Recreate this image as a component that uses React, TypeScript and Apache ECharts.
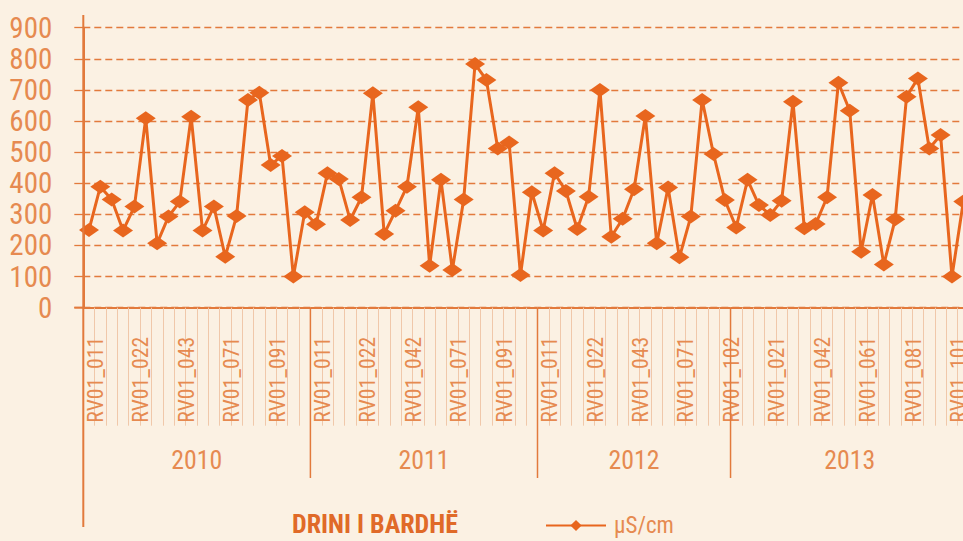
import React, { useEffect, useRef } from "react";
import * as echarts from "echarts";

const years = ["2010", "2011", "2012", "2013"];
const codes2010 = ["011", "012", "013", "021", "022", "031", "032", "041", "043", "051", "052", "061", "071", "072", "081", "082", "091", "092", "101", "102"];
const codes2011 = ["011", "012", "013", "021", "022", "031", "032", "041", "042", "051", "052", "061", "071", "072", "081", "082", "091", "092", "101", "102"];
const codes2012 = ["011", "012", "013", "021", "022", "031", "041", "042", "043", "051", "061", "062", "071", "081", "091", "101", "102"];
const codes2013 = ["011", "012", "013", "021", "022", "031", "041", "042", "051", "052", "053", "061", "062", "071", "072", "081", "082", "091", "092", "101", "102"];

const values2010 = [250, 389, 348, 248, 325, 609, 207, 293, 341, 614, 248, 325, 164, 295, 668, 691, 459, 488, 100, 307];
const values2011 = [268, 432, 414, 282, 355, 689, 237, 312, 389, 644, 135, 411, 121, 348, 783, 732, 512, 531, 105, 371];
const values2012 = [248, 432, 375, 253, 357, 700, 228, 286, 381, 616, 207, 386, 162, 293, 668, 494, 346];
const values2013 = [258, 411, 330, 298, 344, 662, 255, 269, 355, 723, 633, 180, 362, 139, 284, 678, 737, 512, 555, 100, 341];

const yMin = 0;
const yMax = 900;
const yInterval = 100;

const seriesName = "µS/cm";
const riverName = "DRINI I BARDHË";

const codeGroups = [codes2010, codes2011, codes2012, codes2013];
const categories = codeGroups.flat().map((c) => "RV01_" + c);
const values = [...values2010, ...values2011, ...values2012, ...values2013];

const BG = "#FBF1E3";
const LINE = "#E8661E";
const AXIS = "#E27A3C";
const TEXT = "#E68A50";
const TICK = "#F0C8AA";

function pickFont(): string {
  const cands = [
    "Roboto Condensed",
    "DejaVu Sans Condensed",
    "Liberation Sans Narrow",
    "Noto Sans Condensed",
    "Open Sans Condensed",
    "Arial Narrow",
  ];
  const ctx = document.createElement("canvas").getContext("2d");
  if (!ctx) return "Roboto";
  const test = "RV01_0123456789 abcdefghij";
  ctx.font = "40px monospace";
  const b1 = ctx.measureText(test).width;
  ctx.font = "40px serif";
  const b2 = ctx.measureText(test).width;
  for (const f of cands) {
    ctx.font = `40px '${f}', monospace`;
    const w1 = ctx.measureText(test).width;
    ctx.font = `40px '${f}', serif`;
    const w2 = ctx.measureText(test).width;
    if (Math.abs(w1 - b1) > 0.5 || Math.abs(w2 - b2) > 0.5) return `'${f}'`;
  }
  return "Roboto";
}

function fitSize(font: string, text: string, target: number, maxSize: number, weight = "normal"): number {
  const ctx = document.createElement("canvas").getContext("2d");
  if (!ctx) return maxSize;
  ctx.font = `${weight} 100px ${font}`;
  const w = ctx.measureText(text).width;
  if (!w) return maxSize;
  return Math.min(maxSize, (100 * target) / w);
}

export default function App() {
  const ref = useRef<HTMLDivElement>(null);

  useEffect(() => {
    if (!ref.current) return;
    const FONT = pickFont() + ", Roboto, sans-serif";
    const ySize = fitSize(FONT, "900", 43, 30);
    const xSize = fitSize(FONT, "RV01_011", 86, 22.5);
    const yearSize = fitSize(FONT, "2010", 51, 29);
    const titleSize = fitSize(FONT, riverName, 166, 27, "bold");
    const legendSize = fitSize(FONT, seriesName, 72, 23);

    const chart = echarts.init(ref.current, null, { renderer: "svg" });
    const option: any = {
      animation: false,
      backgroundColor: BG,
      title: {
        text: riverName,
        left: 292,
        top: 527 - titleSize * 0.6,
        padding: 0,
        textStyle: { fontFamily: FONT, fontSize: titleSize, fontWeight: "bold", color: "#E06A28" },
      },
      legend: {
        data: [seriesName],
        left: 545,
        top: 514,
        padding: 0,
        itemWidth: 60,
        itemHeight: 14,
        itemGap: 10,
        textStyle: {
          fontFamily: FONT,
          fontSize: legendSize,
          lineHeight: 18,
          color: TEXT,
          padding: [0, 0, 0, 3],
        },
      },
      grid: {
        left: 83.3,
        top: 27.7,
        height: 280,
        width: categories.length * 11.355,
        outerBoundsMode: "none",
        containLabel: false,
      },
      xAxis: {
        type: "category",
        data: categories,
        boundaryGap: true,
        axisLine: { show: true, lineStyle: { color: AXIS, width: 2 } },
        axisTick: { show: true, interval: 0, length: 118, lineStyle: { color: TICK, width: 1 } },
        axisLabel: {
          interval: 3,
          rotate: 90,
          margin: 29,
          fontFamily: FONT,
          fontSize: xSize,
          color: TEXT,
          verticalAlign: "top",
          lineHeight: 13,
        },
        splitLine: { show: false },
      },
      yAxis: {
        type: "value",
        min: yMin,
        max: yMax,
        interval: yInterval,
        axisLine: { show: true, lineStyle: { color: AXIS, width: 2 } },
        axisTick: { show: true, length: 9, lineStyle: { color: AXIS, width: 1.3 } },
        axisLabel: { margin: 31, fontFamily: FONT, fontSize: ySize, color: TEXT },
        splitLine: { show: true, lineStyle: { color: AXIS, width: 1.3, type: [7, 4] } },
      },
      series: [
        {
          name: seriesName,
          type: "line",
          data: values,
          symbol: "diamond",
          symbolSize: [20, 14],
          showSymbol: true,
          showAllSymbol: true,
          lineStyle: { color: LINE, width: 3 },
          itemStyle: { color: LINE },
        },
      ],
    };
    chart.setOption(option);

    const c0 = chart.convertToPixel({ xAxisIndex: 0 }, 0) as number;
    const c1 = chart.convertToPixel({ xAxisIndex: 0 }, 1) as number;
    const band = c1 - c0;
    const axisY = chart.convertToPixel({ yAxisIndex: 0 }, 0) as number;
    const boundary = (i: number) => c0 + (i - 0.5) * band;

    const starts: number[] = [];
    let acc = 0;
    codeGroups.forEach((g) => {
      starts.push(acc);
      acc += g.length;
    });
    starts.push(acc);

    const graphic: any[] = [];
    const x0 = boundary(0);
    graphic.push({
      type: "line",
      shape: { x1: x0, y1: 15, x2: x0, y2: 527 },
      style: { stroke: AXIS, lineWidth: 2 },
      z: 10,
    });
    graphic.push({
      type: "line",
      shape: { x1: x0 - 9, y1: axisY, x2: x0, y2: axisY },
      style: { stroke: AXIS, lineWidth: 2 },
      z: 10,
    });
    for (let k = 1; k < starts.length; k++) {
      const bx = boundary(starts[k]);
      graphic.push({
        type: "line",
        shape: { x1: bx, y1: axisY, x2: bx, y2: 478 },
        style: { stroke: AXIS, lineWidth: 1.5 },
        z: 10,
      });
    }
    years.forEach((yr, k) => {
      const cx = (boundary(starts[k]) + boundary(starts[k + 1])) / 2;
      graphic.push({
        type: "text",
        x: cx,
        y: 460,
        style: {
          text: yr,
          fill: TEXT,
          fontFamily: FONT,
          fontSize: yearSize,
          align: "center",
          verticalAlign: "middle",
        },
        z: 10,
      });
    });
    chart.setOption({ graphic });

    return () => chart.dispose();
  }, []);

  return (
    <div
      ref={ref}
      style={{ position: "absolute", left: 0, top: 0, width: 963, height: 541, background: BG }}
    />
  );
}
